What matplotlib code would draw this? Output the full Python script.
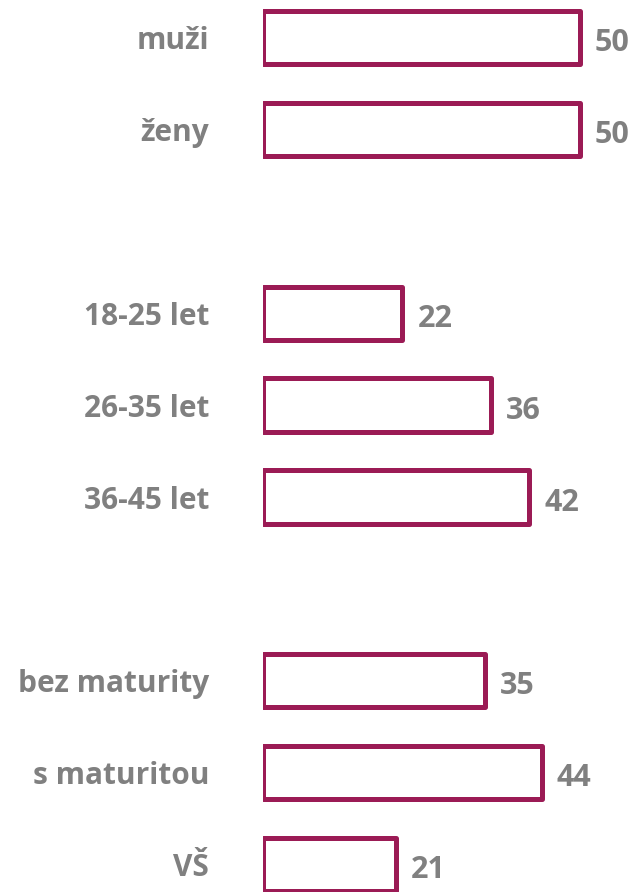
import matplotlib.pyplot as plt

labels = ["muži", "ženy", "18-25 let", "26-35 let", "36-45 let",
          "bez maturity", "s maturitou", "VŠ"]
values = [50, 50, 22, 36, 42, 35, 44, 21]
rows = [0, 1, 3, 4, 5, 7, 8, 9]

bar_color = "#9b1b55"
text_color = "#808080"

plt.rcParams["font.family"] = ["Open Sans", "DejaVu Sans"]

fig = plt.figure(figsize=(6.38, 8.92), dpi=100)
ax = fig.add_axes([263 / 638, 0, 375 / 638, 1])

ax.barh(rows, values, height=0.58, color="white", edgecolor=bar_color,
        linewidth=3.6, joinstyle="round")

for r, lab, v in zip(rows, labels, values):
    ax.text(-8.5, r + 0.04, lab, ha="right", va="center", fontsize=21.5,
            fontweight="bold", color=text_color)
    ax.text(v + 2.4, r + 0.06, str(v), ha="left", va="center", fontsize=22,
            fontweight="bold", color=text_color)

ax.set_xlim(0, 59.2)
ax.set_ylim(9.298, -0.408)
ax.axis("off")

fig.savefig("out.png", dpi=100)
